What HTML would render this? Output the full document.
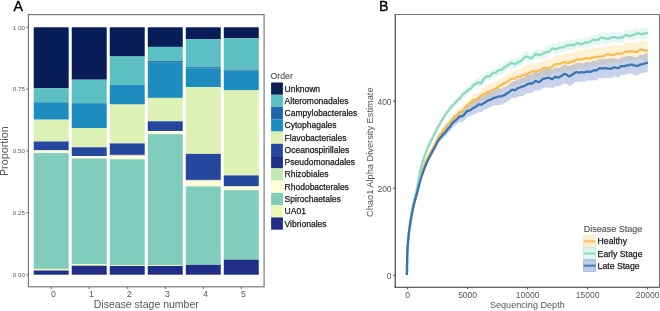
<!DOCTYPE html><html><head><meta charset="utf-8"><style>html,body{margin:0;padding:0;background:#fff;width:660px;height:311px;overflow:hidden}svg{display:block;filter:opacity(0.999)}text{font-family:"Liberation Sans",sans-serif}</style></head><body>
<svg width="660" height="311" viewBox="0 0 660 311">
<rect width="660" height="311" fill="#fff"/>
<rect x="33.72" y="27.30" width="34.97" height="60.90" fill="#081D58"/><rect x="33.72" y="88.20" width="34.97" height="14.10" fill="#5CBFC1"/><rect x="33.72" y="102.30" width="34.97" height="17.40" fill="#1D8DBF"/><rect x="33.72" y="119.70" width="34.97" height="21.80" fill="#DCF1B3"/><rect x="33.72" y="141.50" width="34.97" height="8.90" fill="#26479E"/><rect x="33.72" y="150.40" width="34.97" height="2.70" fill="#FFFFD9"/><rect x="33.72" y="153.10" width="34.97" height="115.80" fill="#80CDBB"/><rect x="33.72" y="268.90" width="34.97" height="1.60" fill="#EEF8B4"/><rect x="33.72" y="270.50" width="34.97" height="4.20" fill="#212E88"/>
<rect x="71.74" y="27.30" width="34.97" height="52.40" fill="#081D58"/><rect x="71.74" y="79.70" width="34.97" height="23.50" fill="#5CBFC1"/><rect x="71.74" y="103.20" width="34.97" height="24.90" fill="#1D8DBF"/><rect x="71.74" y="128.10" width="34.97" height="19.20" fill="#DCF1B3"/><rect x="71.74" y="147.30" width="34.97" height="8.80" fill="#26479E"/><rect x="71.74" y="156.10" width="34.97" height="2.40" fill="#FFFFD9"/><rect x="71.74" y="158.50" width="34.97" height="105.60" fill="#80CDBB"/><rect x="71.74" y="264.10" width="34.97" height="1.60" fill="#EEF8B4"/><rect x="71.74" y="265.70" width="34.97" height="9.00" fill="#212E88"/>
<rect x="109.75" y="27.30" width="34.97" height="29.20" fill="#081D58"/><rect x="109.75" y="56.50" width="34.97" height="28.10" fill="#5CBFC1"/><rect x="109.75" y="84.60" width="34.97" height="19.90" fill="#1D8DBF"/><rect x="109.75" y="104.50" width="34.97" height="38.90" fill="#DCF1B3"/><rect x="109.75" y="143.40" width="34.97" height="11.40" fill="#26479E"/><rect x="109.75" y="154.80" width="34.97" height="0.60" fill="#1F2E86"/><rect x="109.75" y="155.40" width="34.97" height="3.90" fill="#FFFFD9"/><rect x="109.75" y="159.30" width="34.97" height="105.80" fill="#80CDBB"/><rect x="109.75" y="265.10" width="34.97" height="0.90" fill="#EEF8B4"/><rect x="109.75" y="266.00" width="34.97" height="8.70" fill="#212E88"/>
<rect x="147.77" y="27.30" width="34.97" height="19.60" fill="#081D58"/><rect x="147.77" y="46.90" width="34.97" height="14.20" fill="#5CBFC1"/><rect x="147.77" y="61.10" width="34.97" height="1.00" fill="#2166AC"/><rect x="147.77" y="62.10" width="34.97" height="35.80" fill="#1D8DBF"/><rect x="147.77" y="97.90" width="34.97" height="23.40" fill="#DCF1B3"/><rect x="147.77" y="121.30" width="34.97" height="9.70" fill="#26479E"/><rect x="147.77" y="131.00" width="34.97" height="3.20" fill="#FFFFD9"/><rect x="147.77" y="134.20" width="34.97" height="130.90" fill="#80CDBB"/><rect x="147.77" y="265.10" width="34.97" height="0.90" fill="#EEF8B4"/><rect x="147.77" y="266.00" width="34.97" height="8.70" fill="#212E88"/>
<rect x="185.79" y="27.30" width="34.97" height="11.90" fill="#081D58"/><rect x="185.79" y="39.20" width="34.97" height="28.00" fill="#5CBFC1"/><rect x="185.79" y="67.20" width="34.97" height="1.00" fill="#2166AC"/><rect x="185.79" y="68.20" width="34.97" height="18.90" fill="#1D8DBF"/><rect x="185.79" y="87.10" width="34.97" height="66.80" fill="#DCF1B3"/><rect x="185.79" y="153.90" width="34.97" height="25.90" fill="#26479E"/><rect x="185.79" y="179.80" width="34.97" height="0.60" fill="#1F2E86"/><rect x="185.79" y="180.40" width="34.97" height="6.00" fill="#FFFFD9"/><rect x="185.79" y="186.40" width="34.97" height="78.50" fill="#80CDBB"/><rect x="185.79" y="264.90" width="34.97" height="9.80" fill="#212E88"/>
<rect x="223.80" y="27.30" width="34.97" height="10.90" fill="#081D58"/><rect x="223.80" y="38.20" width="34.97" height="31.40" fill="#5CBFC1"/><rect x="223.80" y="69.60" width="34.97" height="0.90" fill="#2166AC"/><rect x="223.80" y="70.50" width="34.97" height="19.90" fill="#1D8DBF"/><rect x="223.80" y="90.40" width="34.97" height="85.00" fill="#DCF1B3"/><rect x="223.80" y="175.40" width="34.97" height="11.00" fill="#26479E"/><rect x="223.80" y="186.40" width="34.97" height="3.80" fill="#FFFFD9"/><rect x="223.80" y="190.20" width="34.97" height="69.50" fill="#80CDBB"/><rect x="223.80" y="259.70" width="34.97" height="15.00" fill="#212E88"/>

<rect x="28.4" y="14.6" width="235.70000000000002" height="272.2" fill="none" stroke="#7a7a7a" stroke-width="1.2"/>
<line x1="26.4" x2="28.5" y1="274.70" y2="274.70" stroke="#555" stroke-width="0.9"/><text x="25" y="277.00" text-anchor="end" font-size="6.25" fill="#575757" font-family="Liberation Sans, sans-serif">0.00</text><line x1="26.4" x2="28.5" y1="212.85" y2="212.85" stroke="#555" stroke-width="0.9"/><text x="25" y="215.15" text-anchor="end" font-size="6.25" fill="#575757" font-family="Liberation Sans, sans-serif">0.25</text><line x1="26.4" x2="28.5" y1="151.00" y2="151.00" stroke="#555" stroke-width="0.9"/><text x="25" y="153.30" text-anchor="end" font-size="6.25" fill="#575757" font-family="Liberation Sans, sans-serif">0.50</text><line x1="26.4" x2="28.5" y1="89.15" y2="89.15" stroke="#555" stroke-width="0.9"/><text x="25" y="91.45" text-anchor="end" font-size="6.25" fill="#575757" font-family="Liberation Sans, sans-serif">0.75</text><line x1="26.4" x2="28.5" y1="27.30" y2="27.30" stroke="#555" stroke-width="0.9"/><text x="25" y="29.60" text-anchor="end" font-size="6.25" fill="#575757" font-family="Liberation Sans, sans-serif">1.00</text>
<line x1="51.21" x2="51.21" y1="287" y2="289" stroke="#555" stroke-width="0.9"/><text x="53.41" y="296.5" text-anchor="middle" font-size="8.7" fill="#575757" font-family="Liberation Sans, sans-serif">0</text><line x1="89.23" x2="89.23" y1="287" y2="289" stroke="#555" stroke-width="0.9"/><text x="91.43" y="296.5" text-anchor="middle" font-size="8.7" fill="#575757" font-family="Liberation Sans, sans-serif">1</text><line x1="127.24" x2="127.24" y1="287" y2="289" stroke="#555" stroke-width="0.9"/><text x="129.44" y="296.5" text-anchor="middle" font-size="8.7" fill="#575757" font-family="Liberation Sans, sans-serif">2</text><line x1="165.26" x2="165.26" y1="287" y2="289" stroke="#555" stroke-width="0.9"/><text x="167.46" y="296.5" text-anchor="middle" font-size="8.7" fill="#575757" font-family="Liberation Sans, sans-serif">3</text><line x1="203.27" x2="203.27" y1="287" y2="289" stroke="#555" stroke-width="0.9"/><text x="205.47" y="296.5" text-anchor="middle" font-size="8.7" fill="#575757" font-family="Liberation Sans, sans-serif">4</text><line x1="241.29" x2="241.29" y1="287" y2="289" stroke="#555" stroke-width="0.9"/><text x="243.49" y="296.5" text-anchor="middle" font-size="8.7" fill="#575757" font-family="Liberation Sans, sans-serif">5</text>
<text x="146.25" y="308.2" text-anchor="middle" font-size="10.5" fill="#575757" font-family="Liberation Sans, sans-serif">Disease stage number</text>
<text transform="translate(7.5,151.2) rotate(-90)" text-anchor="middle" font-size="10.8" fill="#575757" font-family="Liberation Sans, sans-serif">Proportion</text>
<text x="13.4" y="10.9" font-size="14.2" fill="#000" stroke="#000" stroke-width="0.35" font-family="Liberation Sans, sans-serif">A</text>
<text x="270.6" y="78.7" font-size="8.7" fill="#5a5a5a" stroke="#5a5a5a" stroke-width="0.18" font-family="Liberation Sans, sans-serif">Order</text><rect x="271.1" y="82.50" width="11.8" height="12.27" fill="#081D58"/><text x="284.6" y="91.60" font-size="8.5" fill="#1a1a1a" stroke="#1a1a1a" stroke-width="0.25" font-family="Liberation Sans, sans-serif">Unknown</text><rect x="271.1" y="94.77" width="11.8" height="12.27" fill="#5CBFC1"/><text x="284.6" y="103.86" font-size="8.5" fill="#1a1a1a" stroke="#1a1a1a" stroke-width="0.25" font-family="Liberation Sans, sans-serif">Alteromonadales</text><rect x="271.1" y="107.03" width="11.8" height="12.27" fill="#2166AC"/><text x="284.6" y="116.13" font-size="8.5" fill="#1a1a1a" stroke="#1a1a1a" stroke-width="0.25" font-family="Liberation Sans, sans-serif">Campylobacterales</text><rect x="271.1" y="119.30" width="11.8" height="12.27" fill="#1D8DBF"/><text x="284.6" y="128.40" font-size="8.5" fill="#1a1a1a" stroke="#1a1a1a" stroke-width="0.25" font-family="Liberation Sans, sans-serif">Cytophagales</text><rect x="271.1" y="131.56" width="11.8" height="12.27" fill="#DCF1B3"/><text x="284.6" y="140.66" font-size="8.5" fill="#1a1a1a" stroke="#1a1a1a" stroke-width="0.25" font-family="Liberation Sans, sans-serif">Flavobacteriales</text><rect x="271.1" y="143.82" width="11.8" height="12.27" fill="#26479E"/><text x="284.6" y="152.92" font-size="8.5" fill="#1a1a1a" stroke="#1a1a1a" stroke-width="0.25" font-family="Liberation Sans, sans-serif">Oceanospirillales</text><rect x="271.1" y="156.09" width="11.8" height="12.27" fill="#1F2E86"/><text x="284.6" y="165.19" font-size="8.5" fill="#1a1a1a" stroke="#1a1a1a" stroke-width="0.25" font-family="Liberation Sans, sans-serif">Pseudomonadales</text><rect x="271.1" y="168.36" width="11.8" height="12.27" fill="#C2E6B4"/><text x="284.6" y="177.46" font-size="8.5" fill="#1a1a1a" stroke="#1a1a1a" stroke-width="0.25" font-family="Liberation Sans, sans-serif">Rhizobiales</text><rect x="271.1" y="180.62" width="11.8" height="12.27" fill="#FFFFD9"/><text x="284.6" y="189.72" font-size="8.5" fill="#1a1a1a" stroke="#1a1a1a" stroke-width="0.25" font-family="Liberation Sans, sans-serif">Rhodobacterales</text><rect x="271.1" y="192.88" width="11.8" height="12.27" fill="#80CDBB"/><text x="284.6" y="201.98" font-size="8.5" fill="#1a1a1a" stroke="#1a1a1a" stroke-width="0.25" font-family="Liberation Sans, sans-serif">Spirochaetales</text><rect x="271.1" y="205.15" width="11.8" height="12.27" fill="#EEF8B4"/><text x="284.6" y="214.25" font-size="8.5" fill="#1a1a1a" stroke="#1a1a1a" stroke-width="0.25" font-family="Liberation Sans, sans-serif">UA01</text><rect x="271.1" y="217.42" width="11.8" height="12.27" fill="#212E88"/><text x="284.6" y="226.52" font-size="8.5" fill="#1a1a1a" stroke="#1a1a1a" stroke-width="0.25" font-family="Liberation Sans, sans-serif">Vibrionales</text>
<path d="M406.9,275.0 L406.9,274.1 L406.9,273.2 L406.9,272.3 L407.0,271.4 L407.0,270.5 L407.0,269.6 L407.0,268.7 L407.0,267.8 L407.0,266.9 L407.0,266.0 L407.0,265.1 L407.0,264.2 L407.1,263.3 L407.1,262.4 L407.1,261.5 L407.1,260.6 L407.1,259.7 L407.1,258.8 L407.2,257.9 L407.2,257.0 L407.2,256.1 L407.2,255.2 L407.3,254.3 L407.3,253.4 L407.3,252.5 L407.4,251.6 L407.4,250.7 L407.5,249.8 L407.5,248.9 L407.6,247.9 L407.6,247.0 L407.7,246.1 L407.8,245.2 L407.8,244.3 L407.9,243.4 L408.0,242.5 L408.1,241.6 L408.1,240.7 L408.2,239.8 L408.3,238.9 L408.4,238.0 L408.5,237.1 L408.6,236.2 L408.6,235.3 L408.7,234.4 L408.9,233.5 L409.0,232.6 L409.1,231.7 L409.2,230.8 L409.3,229.9 L409.4,229.0 L409.6,228.1 L409.7,227.2 L409.8,226.3 L409.9,225.3 L410.1,224.4 L410.2,223.5 L410.4,222.6 L410.5,221.7 L410.6,220.8 L410.8,219.9 L410.9,219.0 L411.1,218.1 L411.2,217.2 L411.4,216.3 L411.6,215.4 L411.7,214.5 L411.9,213.6 L412.1,212.7 L412.2,211.8 L412.4,210.9 L412.6,210.0 L412.8,209.1 L413.0,208.2 L413.2,207.3 L413.3,206.4 L413.5,205.5 L413.7,204.6 L413.9,203.7 L414.2,202.9 L414.4,202.0 L414.6,201.1 L414.8,200.2 L415.1,199.3 L415.3,198.4 L415.6,197.5 L415.8,196.6 L416.1,195.7 L416.3,194.8 L416.5,193.9 L416.8,193.1 L417.0,192.2 L417.2,191.3 L417.4,190.4 L417.6,189.5 L417.8,188.6 L418.0,187.7 L418.2,186.8 L418.4,185.9 L418.6,185.0 L418.8,184.1 L419.0,183.2 L419.2,182.3 L419.4,181.4 L419.6,180.5 L419.8,179.6 L420.0,178.7 L420.2,177.8 L420.5,176.9 L420.7,176.1 L421.0,175.2 L421.2,174.3 L421.4,173.4 L421.7,172.5 L421.9,171.6 L422.2,170.7 L422.4,169.8 L422.7,168.9 L423.0,168.0 L423.2,167.1 L423.5,166.3 L423.8,165.4 L424.1,164.5 L424.4,163.6 L424.7,162.8 L425.0,161.9 L425.3,161.0 L425.6,160.2 L426.0,159.3 L426.3,158.5 L426.7,157.6 L427.1,156.8 L427.5,155.9 L427.9,155.1 L428.3,154.3 L428.7,153.4 L429.2,152.6 L429.6,151.7 L430.1,150.9 L430.5,150.1 L431.0,149.3 L431.4,148.6 L431.9,147.7 L432.3,146.9 L432.8,146.0 L433.2,145.2 L433.6,144.3 L434.1,143.5 L434.5,142.6 L434.9,141.8 L435.3,140.9 L435.7,140.1 L436.1,139.2 L436.5,138.2 L436.9,137.3 L437.2,136.4 L437.7,135.5 L438.1,134.7 L438.5,134.0 L438.9,133.3 L439.4,132.6 L439.8,131.8 L440.3,131.1 L440.9,130.5 L441.4,129.8 L442.0,128.9 L442.6,127.9 L443.2,126.9 L443.7,126.1 L444.3,125.3 L444.9,124.6 L445.4,123.8 L446.0,123.0 L446.5,122.2 L447.1,121.5 L447.6,120.9 L448.2,120.4 L448.7,119.8 L449.3,119.2 L449.8,118.6 L450.4,118.1 L451.0,117.6 L451.6,117.0 L452.2,116.1 L452.8,115.0 L453.5,113.7 L454.1,112.7 L454.8,112.1 L455.4,111.7 L456.1,111.3 L456.8,110.7 L457.5,109.7 L458.2,108.7 L458.8,108.0 L459.5,107.7 L460.2,107.6 L460.9,107.4 L461.6,107.1 L462.2,106.8 L462.9,106.2 L463.5,105.3 L464.1,104.1 L464.8,102.7 L465.4,101.7 L466.1,101.4 L466.8,101.3 L467.4,101.0 L468.2,100.4 L468.9,99.6 L469.6,98.5 L470.3,97.6 L471.1,96.8 L471.8,96.0 L472.6,95.2 L473.3,94.7 L474.1,94.3 L474.9,94.0 L475.6,93.9 L476.4,93.8 L477.2,93.5 L478.0,93.0 L478.7,92.2 L479.5,91.1 L480.3,89.9 L481.1,88.8 L481.8,88.1 L482.6,87.9 L483.4,87.9 L484.2,88.0 L485.0,87.8 L485.8,87.1 L486.6,86.3 L487.4,85.6 L488.2,85.1 L489.0,84.9 L489.8,84.6 L490.6,84.1 L491.4,83.5 L492.2,83.0 L493.0,82.5 L493.8,82.1 L494.6,81.9 L495.4,81.6 L496.2,81.3 L497.0,81.1 L497.7,80.9 L498.5,80.5 L499.2,79.9 L500.0,79.2 L500.7,78.5 L501.5,77.8 L502.3,77.4 L503.1,77.1 L503.9,76.6 L504.7,76.2 L505.5,75.8 L506.3,75.4 L507.1,75.0 L507.9,74.4 L508.7,73.7 L509.5,73.0 L510.3,72.5 L511.2,72.1 L512.0,71.9 L512.8,71.8 L513.6,71.6 L514.5,71.0 L515.3,70.4 L516.1,69.8 L517.0,69.3 L517.8,69.4 L518.6,69.7 L519.5,69.7 L520.3,69.3 L521.1,68.5 L522.0,67.5 L522.8,66.7 L523.7,66.4 L524.5,66.2 L525.3,65.9 L526.2,65.4 L527.0,64.8 L527.9,64.5 L528.8,64.5 L529.6,64.4 L530.5,64.0 L531.3,63.4 L532.2,63.0 L533.0,63.2 L533.9,63.8 L534.8,64.3 L535.6,64.4 L536.5,63.9 L537.4,63.1 L538.2,62.5 L539.1,62.3 L539.9,62.3 L540.8,62.3 L541.7,62.0 L542.5,61.4 L543.4,60.7 L544.3,60.2 L545.1,59.8 L546.0,59.5 L546.8,59.5 L547.7,59.6 L548.6,59.7 L549.5,59.9 L550.3,59.8 L551.2,59.4 L552.1,58.6 L552.9,57.6 L553.8,56.8 L554.7,56.2 L555.5,55.8 L556.4,55.5 L557.3,55.3 L558.2,55.3 L559.0,55.2 L559.9,54.9 L560.8,54.5 L561.7,54.1 L562.5,53.9 L563.4,53.9 L564.3,53.9 L565.2,53.7 L566.0,53.6 L566.9,53.7 L567.8,53.9 L568.7,54.0 L569.5,53.8 L570.4,53.4 L571.3,52.9 L572.2,52.7 L573.1,52.5 L573.9,52.3 L574.8,51.8 L575.7,51.2 L576.6,50.7 L577.5,50.4 L578.3,50.2 L579.2,50.1 L580.1,50.2 L581.0,50.5 L581.9,50.7 L582.8,50.5 L583.6,50.2 L584.5,49.7 L585.4,49.5 L586.3,49.3 L587.2,49.3 L588.1,49.2 L588.9,49.1 L589.8,48.9 L590.7,48.4 L591.6,47.9 L592.5,47.5 L593.4,47.5 L594.3,47.8 L595.1,48.1 L596.0,48.3 L596.9,48.1 L597.8,47.8 L598.7,47.5 L599.6,47.3 L600.5,47.2 L601.4,47.3 L602.2,47.5 L603.1,47.5 L604.0,47.1 L604.9,46.7 L605.8,46.3 L606.7,46.0 L607.6,45.7 L608.5,45.4 L609.4,45.2 L610.3,45.3 L611.1,45.6 L612.0,45.7 L612.9,45.5 L613.8,45.2 L614.7,44.8 L615.6,44.5 L616.5,44.4 L617.4,44.5 L618.3,44.8 L619.2,44.9 L620.1,44.9 L621.0,44.8 L621.9,44.5 L622.7,44.2 L623.6,43.7 L624.5,43.2 L625.4,42.7 L626.3,42.4 L627.2,42.4 L628.1,42.5 L629.0,42.5 L629.9,42.3 L630.8,42.2 L631.7,42.3 L632.6,42.5 L633.5,42.7 L634.4,42.9 L635.3,43.1 L636.2,43.2 L637.1,43.0 L638.0,42.4 L638.9,41.5 L639.7,40.8 L640.6,40.6 L641.5,40.7 L642.4,41.1 L643.3,41.3 L644.2,41.3 L645.1,41.4 L646.0,41.4 L646.9,41.3 L647.8,41.2 L647.8,60.1 L646.9,60.6 L646.0,60.8 L645.1,60.6 L644.2,60.2 L643.3,59.7 L642.4,59.2 L641.5,58.8 L640.6,58.6 L639.7,58.5 L638.9,58.8 L638.0,59.5 L637.1,60.3 L636.2,60.7 L635.3,60.9 L634.4,60.9 L633.5,60.7 L632.6,60.4 L631.7,60.2 L630.8,60.1 L629.9,60.2 L629.0,60.6 L628.1,60.8 L627.2,60.6 L626.3,60.3 L625.4,60.3 L624.5,60.7 L623.6,61.5 L622.7,62.3 L621.9,63.0 L621.0,63.4 L620.1,63.3 L619.2,63.0 L618.3,62.7 L617.4,62.6 L616.5,62.9 L615.6,63.5 L614.7,64.1 L613.8,64.2 L612.9,64.0 L612.0,63.9 L611.1,63.9 L610.3,63.8 L609.4,63.5 L608.5,63.3 L607.6,63.0 L606.7,63.1 L605.8,63.6 L604.9,64.2 L604.0,64.6 L603.1,64.8 L602.2,65.0 L601.4,65.0 L600.5,65.1 L599.6,65.2 L598.7,65.1 L597.8,65.1 L596.9,65.2 L596.0,65.7 L595.1,66.0 L594.3,65.9 L593.4,65.7 L592.5,65.7 L591.6,66.3 L590.7,67.1 L589.8,67.7 L588.9,67.8 L588.1,67.4 L587.2,67.1 L586.3,66.9 L585.4,67.0 L584.5,67.4 L583.6,67.8 L582.8,68.1 L581.9,68.1 L581.0,67.8 L580.1,67.6 L579.2,67.7 L578.3,68.2 L577.5,68.7 L576.6,69.1 L575.7,69.4 L574.8,69.9 L573.9,70.3 L573.1,70.5 L572.2,70.4 L571.3,70.4 L570.4,70.6 L569.5,71.1 L568.7,71.6 L567.8,71.8 L566.9,71.6 L566.0,71.4 L565.2,71.4 L564.3,71.4 L563.4,71.4 L562.5,71.5 L561.7,71.5 L560.8,71.7 L559.9,71.9 L559.0,71.9 L558.2,71.9 L557.3,72.0 L556.4,72.3 L555.5,72.6 L554.7,72.9 L553.8,73.3 L552.9,73.9 L552.1,74.6 L551.2,75.4 L550.3,76.1 L549.5,76.5 L548.6,76.7 L547.7,76.7 L546.8,76.5 L546.0,76.3 L545.1,76.1 L544.3,76.1 L543.4,76.3 L542.5,76.7 L541.7,77.4 L540.8,78.0 L539.9,78.5 L539.1,78.8 L538.2,79.1 L537.4,79.5 L536.5,79.8 L535.6,79.8 L534.8,79.5 L533.9,79.0 L533.0,78.8 L532.2,79.0 L531.3,79.6 L530.5,80.2 L529.6,80.7 L528.8,81.0 L527.9,81.3 L527.0,81.7 L526.2,82.2 L525.3,82.4 L524.5,82.5 L523.7,82.7 L522.8,82.8 L522.0,83.2 L521.1,83.8 L520.3,84.2 L519.5,84.6 L518.6,84.8 L517.8,84.9 L517.0,85.1 L516.1,85.5 L515.3,85.8 L514.5,85.9 L513.6,86.0 L512.8,86.1 L512.0,86.1 L511.2,86.4 L510.3,86.7 L509.5,87.2 L508.7,87.8 L507.9,88.4 L507.1,88.8 L506.3,89.1 L505.5,89.3 L504.7,89.5 L503.9,90.0 L503.1,90.5 L502.3,91.0 L501.5,91.5 L500.7,92.1 L500.0,92.5 L499.2,92.9 L498.5,93.3 L497.7,93.9 L497.0,94.5 L496.2,94.9 L495.4,95.1 L494.6,95.2 L493.8,95.4 L493.0,95.8 L492.2,96.4 L491.4,96.8 L490.6,97.2 L489.8,97.6 L489.0,97.7 L488.2,97.8 L487.4,98.2 L486.6,98.8 L485.8,99.4 L485.0,100.0 L484.2,100.3 L483.4,100.5 L482.6,100.9 L481.8,101.6 L481.1,102.2 L480.3,102.6 L479.5,103.0 L478.7,103.3 L478.0,103.8 L477.2,104.2 L476.4,104.7 L475.6,104.9 L474.9,105.0 L474.1,105.1 L473.3,105.3 L472.6,105.8 L471.8,106.4 L471.1,106.9 L470.3,107.4 L469.6,108.0 L468.9,108.8 L468.2,109.5 L467.4,110.2 L466.8,110.6 L466.1,110.9 L465.4,111.2 L464.8,111.8 L464.1,112.8 L463.5,113.7 L462.9,114.5 L462.2,115.1 L461.6,115.6 L460.9,116.1 L460.2,116.5 L459.5,116.9 L458.8,117.3 L458.2,117.9 L457.5,118.7 L456.8,119.4 L456.1,119.9 L455.4,120.3 L454.8,120.6 L454.1,121.1 L453.5,121.7 L452.8,122.6 L452.2,123.5 L451.6,124.4 L451.0,125.1 L450.4,125.7 L449.8,126.3 L449.3,126.8 L448.7,127.2 L448.2,127.5 L447.6,127.9 L447.1,128.4 L446.5,129.0 L446.0,129.8 L445.4,130.7 L444.9,131.5 L444.3,132.3 L443.7,133.0 L443.2,133.8 L442.6,134.6 L442.0,135.3 L441.4,136.0 L440.9,136.5 L440.3,137.1 L439.8,137.8 L439.4,138.5 L438.9,139.2 L438.5,139.8 L438.1,140.4 L437.7,141.1 L437.2,141.9 L436.9,142.8 L436.5,143.6 L436.1,144.4 L435.7,145.2 L435.3,146.0 L434.9,146.9 L434.5,147.7 L434.1,148.4 L433.6,149.2 L433.2,149.9 L432.8,150.7 L432.3,151.5 L431.9,152.3 L431.4,153.0 L431.0,153.6 L430.5,154.3 L430.1,155.1 L429.6,155.8 L429.2,156.6 L428.7,157.4 L428.3,158.2 L427.9,158.9 L427.5,159.7 L427.1,160.4 L426.7,161.2 L426.3,162.0 L426.0,162.8 L425.6,163.6 L425.3,164.4 L425.0,165.2 L424.7,166.0 L424.4,166.8 L424.1,167.6 L423.8,168.5 L423.5,169.3 L423.2,170.1 L423.0,171.0 L422.7,171.8 L422.4,172.6 L422.2,173.5 L421.9,174.3 L421.7,175.2 L421.4,176.0 L421.2,176.9 L421.0,177.7 L420.7,178.6 L420.5,179.4 L420.2,180.3 L420.0,181.1 L419.8,182.0 L419.6,182.8 L419.4,183.7 L419.2,184.5 L419.0,185.4 L418.8,186.3 L418.6,187.1 L418.4,188.0 L418.2,188.9 L418.0,189.7 L417.8,190.6 L417.6,191.4 L417.4,192.3 L417.2,193.2 L417.0,194.0 L416.8,194.9 L416.5,195.7 L416.3,196.6 L416.1,197.4 L415.8,198.2 L415.6,199.1 L415.3,199.9 L415.1,200.8 L414.8,201.6 L414.6,202.5 L414.4,203.3 L414.2,204.2 L413.9,205.0 L413.7,205.9 L413.5,206.7 L413.3,207.6 L413.2,208.5 L413.0,209.3 L412.8,210.2 L412.6,211.1 L412.4,211.9 L412.2,212.8 L412.1,213.7 L411.9,214.5 L411.7,215.4 L411.6,216.3 L411.4,217.1 L411.2,218.0 L411.1,218.9 L410.9,219.8 L410.8,220.6 L410.6,221.5 L410.5,222.4 L410.4,223.3 L410.2,224.1 L410.1,225.0 L409.9,225.9 L409.8,226.8 L409.7,227.6 L409.6,228.5 L409.4,229.4 L409.3,230.3 L409.2,231.2 L409.1,232.1 L409.0,232.9 L408.9,233.8 L408.7,234.7 L408.6,235.6 L408.6,236.5 L408.5,237.4 L408.4,238.3 L408.3,239.1 L408.2,240.0 L408.1,240.9 L408.1,241.8 L408.0,242.7 L407.9,243.6 L407.8,244.5 L407.8,245.4 L407.7,246.3 L407.6,247.2 L407.6,248.1 L407.5,248.9 L407.5,249.8 L407.4,250.7 L407.4,251.6 L407.3,252.5 L407.3,253.4 L407.3,254.3 L407.2,255.2 L407.2,256.1 L407.2,257.0 L407.2,257.9 L407.1,258.8 L407.1,259.7 L407.1,260.6 L407.1,261.5 L407.1,262.4 L407.1,263.3 L407.0,264.2 L407.0,265.1 L407.0,266.0 L407.0,266.9 L407.0,267.8 L407.0,268.7 L407.0,269.6 L407.0,270.5 L407.0,271.4 L406.9,272.3 L406.9,273.2 L406.9,274.1 L406.9,275.0Z" fill="#FFCF78" fill-opacity="0.3" stroke="none"/>
<path d="M406.9,275.0 L406.9,274.1 L406.9,273.1 L406.9,272.2 L407.0,271.3 L407.0,270.3 L407.0,269.4 L407.0,268.5 L407.0,267.5 L407.0,266.6 L407.0,265.7 L407.0,264.7 L407.1,263.8 L407.1,262.8 L407.1,261.9 L407.1,261.0 L407.1,260.0 L407.1,259.1 L407.2,258.2 L407.2,257.2 L407.2,256.3 L407.2,255.4 L407.2,254.4 L407.3,253.5 L407.3,252.6 L407.3,251.6 L407.4,250.7 L407.4,249.7 L407.5,248.8 L407.5,247.9 L407.6,246.9 L407.6,246.0 L407.7,245.1 L407.7,244.1 L407.8,243.2 L407.9,242.2 L407.9,241.3 L408.0,240.4 L408.1,239.4 L408.1,238.5 L408.2,237.6 L408.3,236.6 L408.4,235.7 L408.5,234.8 L408.6,233.8 L408.7,232.9 L408.8,231.9 L408.9,231.0 L409.0,230.1 L409.1,229.1 L409.2,228.2 L409.4,227.3 L409.5,226.3 L409.6,225.4 L409.7,224.4 L409.9,223.5 L410.0,222.6 L410.1,221.6 L410.2,220.7 L410.4,219.8 L410.5,218.8 L410.7,217.9 L410.8,217.0 L410.9,216.0 L411.1,215.1 L411.2,214.2 L411.4,213.2 L411.6,212.3 L411.7,211.4 L411.9,210.4 L412.1,209.5 L412.2,208.6 L412.4,207.6 L412.6,206.7 L412.8,205.8 L412.9,204.8 L413.1,203.9 L413.3,203.0 L413.6,202.1 L413.8,201.1 L414.0,200.2 L414.2,199.3 L414.5,198.4 L414.7,197.4 L415.0,196.5 L415.2,195.6 L415.4,194.7 L415.7,193.8 L415.9,192.8 L416.1,191.9 L416.3,191.0 L416.5,190.0 L416.7,189.1 L416.8,188.2 L417.0,187.3 L417.2,186.3 L417.4,185.4 L417.6,184.5 L417.7,183.5 L417.9,182.6 L418.1,181.7 L418.3,180.7 L418.5,179.8 L418.6,178.9 L418.8,177.9 L419.0,177.0 L419.1,176.1 L419.3,175.1 L419.5,174.2 L419.7,173.3 L419.8,172.3 L420.0,171.4 L420.2,170.5 L420.4,169.6 L420.6,168.6 L420.8,167.7 L421.0,166.8 L421.3,165.9 L421.5,164.9 L421.7,164.0 L422.0,163.1 L422.2,162.2 L422.5,161.3 L422.8,160.3 L423.0,159.4 L423.3,158.5 L423.6,157.6 L423.9,156.7 L424.2,155.8 L424.5,154.9 L424.8,154.0 L425.1,153.1 L425.4,152.2 L425.7,151.3 L426.1,150.4 L426.4,149.5 L426.8,148.6 L427.1,147.7 L427.5,146.8 L427.9,145.9 L428.3,145.0 L428.7,144.1 L429.1,143.2 L429.5,142.3 L429.9,141.5 L430.3,140.7 L430.7,139.8 L431.1,139.0 L431.5,138.2 L432.0,137.3 L432.4,136.4 L432.8,135.5 L433.2,134.6 L433.6,133.7 L434.0,132.9 L434.4,132.0 L434.8,131.1 L435.3,130.2 L435.7,129.3 L436.1,128.3 L436.5,127.3 L437.0,126.4 L437.4,125.6 L437.8,124.8 L438.3,124.0 L438.7,123.3 L439.2,122.6 L439.6,121.8 L440.1,121.0 L440.6,120.2 L441.1,119.2 L441.5,118.2 L442.0,117.3 L442.5,116.6 L443.0,115.7 L443.5,114.9 L444.0,114.0 L444.5,113.1 L445.1,112.4 L445.6,111.8 L446.1,111.0 L446.6,110.2 L447.2,109.4 L447.7,108.8 L448.3,108.2 L448.8,107.5 L449.4,106.6 L449.9,105.5 L450.5,104.5 L451.1,103.7 L451.7,103.0 L452.3,102.4 L452.9,101.7 L453.6,101.2 L454.2,100.6 L454.9,100.1 L455.5,99.3 L456.2,98.4 L456.9,97.5 L457.6,96.7 L458.3,96.1 L458.9,95.6 L459.6,95.3 L460.3,95.1 L460.9,94.3 L461.6,93.1 L462.2,91.7 L462.9,90.7 L463.5,90.1 L464.1,89.8 L464.8,89.5 L465.4,88.9 L466.1,88.1 L466.7,87.3 L467.4,86.5 L468.1,85.7 L468.8,85.1 L469.5,84.7 L470.2,84.5 L470.9,84.2 L471.7,83.6 L472.4,82.8 L473.2,81.9 L474.0,81.0 L474.8,80.3 L475.6,79.7 L476.4,79.2 L477.2,78.7 L478.0,78.4 L478.8,78.6 L479.6,79.0 L480.4,79.1 L481.2,78.7 L482.0,77.6 L482.8,76.0 L483.7,74.5 L484.5,73.6 L485.3,72.9 L486.1,72.3 L487.0,71.9 L487.8,71.8 L488.6,72.0 L489.4,72.2 L490.2,71.9 L491.0,71.0 L491.9,70.0 L492.7,69.2 L493.5,68.9 L494.3,68.8 L495.1,68.6 L495.9,68.1 L496.7,67.2 L497.5,66.2 L498.4,65.5 L499.2,65.4 L500.0,65.7 L500.9,65.9 L501.7,65.7 L502.5,64.8 L503.4,63.7 L504.2,62.8 L505.0,62.1 L505.9,61.7 L506.7,61.3 L507.6,61.0 L508.4,60.6 L509.2,60.0 L510.1,59.4 L510.9,59.0 L511.8,58.8 L512.6,58.9 L513.5,59.3 L514.3,59.5 L515.2,59.3 L516.0,58.7 L516.9,58.0 L517.7,57.4 L518.6,57.1 L519.5,56.8 L520.3,56.5 L521.2,56.1 L522.1,55.3 L522.9,54.3 L523.8,53.2 L524.7,52.0 L525.5,51.2 L526.4,51.0 L527.3,51.1 L528.2,51.7 L529.1,52.6 L529.9,53.4 L530.8,53.8 L531.7,53.6 L532.6,52.9 L533.5,51.7 L534.4,50.4 L535.2,49.3 L536.1,48.8 L537.0,49.1 L537.9,49.8 L538.8,50.4 L539.7,50.5 L540.6,50.3 L541.5,49.9 L542.3,49.4 L543.2,48.6 L544.1,47.7 L545.0,46.9 L545.9,46.6 L546.8,46.6 L547.7,46.6 L548.6,46.4 L549.5,45.8 L550.4,45.0 L551.3,44.0 L552.2,43.2 L553.1,43.0 L554.0,43.3 L554.9,43.7 L555.8,43.7 L556.7,43.4 L557.6,42.9 L558.5,42.3 L559.4,42.2 L560.3,42.3 L561.2,42.5 L562.1,42.7 L563.0,42.6 L563.9,42.1 L564.8,41.4 L565.7,40.9 L566.6,40.7 L567.5,40.8 L568.4,40.8 L569.4,40.5 L570.3,40.1 L571.2,39.7 L572.1,39.7 L573.0,40.0 L573.9,40.2 L574.8,40.0 L575.7,39.3 L576.6,38.4 L577.5,37.6 L578.4,37.5 L579.3,37.9 L580.3,38.6 L581.2,39.2 L582.1,39.3 L583.0,39.0 L583.9,38.4 L584.8,37.8 L585.8,37.5 L586.7,37.4 L587.6,37.3 L588.5,37.1 L589.4,36.7 L590.4,36.2 L591.3,35.6 L592.2,35.3 L593.1,35.2 L594.0,35.2 L595.0,35.0 L595.9,34.7 L596.8,34.4 L597.7,34.1 L598.7,33.6 L599.6,32.9 L600.5,32.3 L601.4,32.2 L602.4,32.4 L603.3,32.6 L604.2,32.6 L605.1,32.4 L606.1,32.5 L607.0,32.8 L607.9,33.0 L608.8,32.7 L609.8,32.2 L610.7,31.8 L611.6,31.8 L612.5,31.9 L613.5,32.1 L614.4,32.2 L615.3,32.3 L616.2,32.6 L617.2,32.7 L618.1,32.6 L619.0,32.3 L619.9,32.0 L620.9,32.2 L621.8,32.3 L622.7,32.2 L623.7,31.6 L624.6,30.7 L625.5,30.0 L626.4,29.8 L627.4,30.1 L628.3,30.5 L629.2,30.9 L630.2,31.0 L631.1,30.8 L632.0,30.4 L632.9,29.8 L633.9,29.1 L634.8,28.4 L635.7,28.1 L636.7,28.1 L637.6,28.4 L638.5,28.8 L639.4,29.2 L640.4,29.4 L641.3,29.3 L642.2,29.0 L643.2,28.5 L644.1,28.3 L645.0,28.3 L645.9,28.3 L646.9,28.1 L647.8,27.8 L647.8,38.6 L646.9,38.6 L645.9,38.5 L645.0,38.5 L644.1,38.6 L643.2,39.0 L642.2,39.3 L641.3,39.2 L640.4,39.0 L639.4,38.7 L638.5,38.5 L637.6,38.2 L636.7,38.3 L635.7,38.4 L634.8,38.8 L633.9,39.4 L632.9,40.1 L632.0,40.6 L631.1,41.0 L630.2,41.2 L629.2,41.0 L628.3,40.5 L627.4,39.9 L626.4,39.6 L625.5,39.8 L624.6,40.7 L623.7,41.9 L622.7,42.7 L621.8,43.1 L620.9,42.9 L619.9,42.7 L619.0,42.8 L618.1,43.1 L617.2,43.1 L616.2,42.8 L615.3,42.3 L614.4,42.0 L613.5,41.9 L612.5,42.2 L611.6,42.5 L610.7,42.8 L609.8,43.2 L608.8,43.5 L607.9,43.8 L607.0,43.8 L606.1,43.8 L605.1,44.0 L604.2,44.2 L603.3,44.1 L602.4,43.8 L601.4,43.5 L600.5,43.5 L599.6,44.0 L598.7,44.7 L597.7,45.1 L596.8,45.1 L595.9,45.0 L595.0,44.7 L594.0,44.6 L593.1,44.7 L592.2,45.1 L591.3,45.8 L590.4,46.6 L589.4,47.3 L588.5,47.5 L587.6,47.5 L586.7,47.4 L585.8,47.2 L584.8,47.4 L583.9,47.9 L583.0,48.4 L582.1,49.0 L581.2,49.4 L580.3,49.3 L579.3,48.8 L578.4,48.1 L577.5,47.6 L576.6,47.8 L575.7,48.4 L574.8,49.1 L573.9,49.4 L573.0,49.3 L572.1,49.4 L571.2,49.9 L570.3,50.4 L569.4,50.6 L568.4,50.5 L567.5,50.2 L566.6,50.3 L565.7,50.9 L564.8,51.8 L563.9,52.5 L563.0,52.8 L562.1,52.7 L561.2,52.4 L560.3,52.3 L559.4,52.3 L558.5,52.7 L557.6,53.5 L556.7,54.1 L555.8,54.3 L554.9,54.0 L554.0,53.4 L553.1,52.9 L552.2,53.2 L551.3,54.2 L550.4,55.4 L549.5,56.3 L548.6,57.0 L547.7,57.3 L546.8,57.4 L545.9,57.6 L545.0,58.0 L544.1,58.7 L543.2,59.2 L542.3,59.4 L541.5,59.3 L540.6,59.4 L539.7,59.7 L538.8,59.9 L537.9,59.6 L537.0,59.1 L536.1,58.7 L535.2,58.8 L534.4,59.5 L533.5,60.5 L532.6,61.6 L531.7,62.6 L530.8,63.1 L529.9,63.2 L529.1,62.6 L528.2,61.8 L527.3,61.2 L526.4,61.1 L525.5,61.3 L524.7,61.9 L523.8,62.7 L522.9,63.5 L522.1,64.4 L521.2,65.3 L520.3,65.8 L519.5,66.0 L518.6,66.3 L517.7,66.7 L516.9,67.4 L516.0,68.2 L515.2,68.8 L514.3,68.9 L513.5,68.6 L512.6,68.1 L511.8,67.7 L510.9,67.5 L510.1,67.6 L509.2,68.1 L508.4,68.8 L507.6,69.7 L506.7,70.5 L505.9,71.2 L505.0,71.7 L504.2,72.0 L503.4,72.5 L502.5,73.3 L501.7,74.2 L500.9,74.9 L500.0,75.1 L499.2,75.1 L498.4,75.1 L497.5,75.6 L496.7,76.4 L495.9,77.0 L495.1,77.2 L494.3,77.1 L493.5,77.1 L492.7,77.6 L491.9,78.7 L491.0,79.8 L490.2,80.5 L489.4,80.6 L488.6,80.2 L487.8,79.9 L487.0,79.9 L486.1,80.3 L485.3,81.2 L484.5,82.2 L483.7,83.4 L482.8,84.8 L482.0,86.3 L481.2,87.3 L480.4,87.6 L479.6,87.4 L478.8,86.8 L478.0,86.4 L477.2,86.5 L476.4,86.8 L475.6,87.1 L474.8,87.5 L474.0,88.1 L473.2,89.0 L472.4,90.0 L471.7,90.9 L470.9,91.5 L470.2,91.8 L469.5,92.2 L468.8,93.1 L468.1,94.0 L467.4,94.7 L466.7,95.3 L466.1,95.9 L465.4,96.5 L464.8,97.1 L464.1,97.5 L463.5,97.6 L462.9,98.0 L462.2,98.7 L461.6,99.8 L460.9,100.9 L460.3,101.8 L459.6,102.3 L458.9,102.6 L458.3,102.9 L457.6,103.3 L456.9,103.9 L456.2,104.8 L455.5,105.8 L454.9,106.7 L454.2,107.4 L453.6,107.9 L452.9,108.4 L452.3,108.8 L451.7,109.3 L451.1,109.8 L450.5,110.4 L449.9,111.4 L449.4,112.4 L448.8,113.3 L448.3,113.9 L447.7,114.4 L447.2,115.0 L446.6,115.7 L446.1,116.5 L445.6,117.1 L445.1,117.7 L444.5,118.3 L444.0,119.1 L443.5,120.1 L443.0,121.0 L442.5,121.9 L442.0,122.7 L441.5,123.4 L441.1,124.3 L440.6,125.2 L440.1,126.1 L439.6,126.9 L439.2,127.6 L438.7,128.2 L438.3,128.8 L437.8,129.4 L437.4,130.1 L437.0,130.8 L436.5,131.7 L436.1,132.7 L435.7,133.7 L435.3,134.5 L434.8,135.3 L434.4,136.1 L434.0,136.9 L433.6,137.7 L433.2,138.5 L432.8,139.3 L432.4,140.1 L432.0,141.0 L431.5,141.9 L431.1,142.7 L430.7,143.4 L430.3,144.2 L429.9,144.9 L429.5,145.7 L429.1,146.6 L428.7,147.4 L428.3,148.2 L427.9,149.1 L427.5,149.9 L427.1,150.8 L426.8,151.6 L426.4,152.5 L426.1,153.3 L425.7,154.1 L425.4,155.0 L425.1,155.8 L424.8,156.7 L424.5,157.5 L424.2,158.4 L423.9,159.3 L423.6,160.1 L423.3,161.0 L423.0,161.9 L422.8,162.8 L422.5,163.6 L422.2,164.5 L422.0,165.4 L421.7,166.3 L421.5,167.2 L421.3,168.0 L421.0,168.9 L420.8,169.8 L420.6,170.7 L420.4,171.6 L420.2,172.5 L420.0,173.4 L419.8,174.3 L419.7,175.2 L419.5,176.1 L419.3,177.0 L419.1,177.9 L419.0,178.8 L418.8,179.7 L418.6,180.7 L418.5,181.6 L418.3,182.5 L418.1,183.4 L417.9,184.3 L417.7,185.2 L417.6,186.1 L417.4,187.0 L417.2,187.9 L417.0,188.8 L416.8,189.7 L416.7,190.6 L416.5,191.5 L416.3,192.4 L416.1,193.3 L415.9,194.2 L415.7,195.1 L415.4,196.0 L415.2,196.9 L415.0,197.8 L414.7,198.6 L414.5,199.5 L414.2,200.4 L414.0,201.3 L413.8,202.2 L413.6,203.1 L413.3,204.0 L413.1,204.9 L412.9,205.8 L412.8,206.7 L412.6,207.6 L412.4,208.5 L412.2,209.4 L412.1,210.3 L411.9,211.2 L411.7,212.1 L411.6,213.0 L411.4,213.9 L411.2,214.8 L411.1,215.7 L410.9,216.6 L410.8,217.5 L410.7,218.5 L410.5,219.4 L410.4,220.3 L410.2,221.2 L410.1,222.1 L410.0,223.0 L409.9,223.9 L409.7,224.9 L409.6,225.8 L409.5,226.7 L409.4,227.6 L409.2,228.5 L409.1,229.5 L409.0,230.4 L408.9,231.3 L408.8,232.2 L408.7,233.1 L408.6,234.1 L408.5,235.0 L408.4,235.9 L408.3,236.8 L408.2,237.7 L408.1,238.7 L408.1,239.6 L408.0,240.5 L407.9,241.4 L407.9,242.4 L407.8,243.3 L407.7,244.2 L407.7,245.2 L407.6,246.1 L407.6,247.0 L407.5,247.9 L407.5,248.9 L407.4,249.8 L407.4,250.7 L407.3,251.7 L407.3,252.6 L407.3,253.5 L407.2,254.5 L407.2,255.4 L407.2,256.3 L407.2,257.3 L407.2,258.2 L407.1,259.1 L407.1,260.1 L407.1,261.0 L407.1,261.9 L407.1,262.9 L407.1,263.8 L407.0,264.7 L407.0,265.7 L407.0,266.6 L407.0,267.5 L407.0,268.5 L407.0,269.4 L407.0,270.3 L407.0,271.3 L406.9,272.2 L406.9,273.1 L406.9,274.1 L406.9,275.0Z" fill="#7FD6BC" fill-opacity="0.2" stroke="none"/>
<path d="M406.9,275.0 L406.9,274.1 L406.9,273.2 L406.9,272.4 L407.0,271.5 L407.0,270.6 L407.0,269.7 L407.0,268.8 L407.0,267.9 L407.0,267.1 L407.0,266.2 L407.0,265.3 L407.0,264.4 L407.1,263.5 L407.1,262.6 L407.1,261.8 L407.1,260.9 L407.1,260.0 L407.1,259.1 L407.1,258.2 L407.2,257.3 L407.2,256.5 L407.2,255.6 L407.2,254.7 L407.3,253.8 L407.3,252.9 L407.3,252.0 L407.4,251.2 L407.4,250.3 L407.5,249.4 L407.6,248.5 L407.6,247.6 L407.7,246.7 L407.7,245.8 L407.8,245.0 L407.9,244.1 L407.9,243.2 L408.0,242.3 L408.1,241.4 L408.2,240.5 L408.2,239.6 L408.3,238.8 L408.4,237.9 L408.5,237.0 L408.6,236.1 L408.7,235.2 L408.8,234.3 L408.9,233.4 L409.0,232.6 L409.1,231.7 L409.2,230.8 L409.3,229.9 L409.4,229.0 L409.5,228.1 L409.7,227.2 L409.8,226.4 L409.9,225.5 L410.1,224.6 L410.2,223.7 L410.3,222.8 L410.5,221.9 L410.6,221.0 L410.7,220.2 L410.9,219.3 L411.0,218.4 L411.2,217.5 L411.3,216.6 L411.5,215.7 L411.7,214.9 L411.8,214.0 L412.0,213.1 L412.2,212.2 L412.3,211.3 L412.5,210.5 L412.7,209.6 L412.9,208.7 L413.1,207.8 L413.2,206.9 L413.4,206.1 L413.6,205.2 L413.8,204.3 L414.0,203.4 L414.2,202.6 L414.4,201.7 L414.7,200.8 L414.9,199.9 L415.1,199.1 L415.4,198.2 L415.6,197.3 L415.8,196.4 L416.1,195.6 L416.3,194.7 L416.5,193.8 L416.8,192.9 L417.0,192.1 L417.2,191.2 L417.5,190.3 L417.7,189.5 L417.9,188.6 L418.1,187.7 L418.3,186.8 L418.6,186.0 L418.8,185.1 L419.0,184.2 L419.2,183.3 L419.5,182.5 L419.7,181.6 L419.9,180.7 L420.2,179.8 L420.4,179.0 L420.7,178.1 L421.0,177.2 L421.2,176.4 L421.5,175.5 L421.8,174.6 L422.0,173.7 L422.3,172.9 L422.6,172.0 L422.9,171.1 L423.2,170.3 L423.5,169.4 L423.8,168.5 L424.1,167.7 L424.4,166.8 L424.7,165.9 L425.0,165.1 L425.4,164.2 L425.7,163.4 L426.0,162.6 L426.4,161.7 L426.7,160.9 L427.1,160.0 L427.5,159.1 L427.8,158.3 L428.2,157.5 L428.6,156.7 L429.0,155.9 L429.4,155.0 L429.8,154.1 L430.2,153.3 L430.6,152.5 L431.0,151.7 L431.4,150.8 L431.9,149.9 L432.3,149.0 L432.7,148.1 L433.1,147.4 L433.6,146.7 L434.0,145.9 L434.4,145.1 L434.8,144.3 L435.3,143.4 L435.7,142.5 L436.1,141.6 L436.5,140.7 L436.9,139.9 L437.4,139.2 L437.8,138.4 L438.2,137.5 L438.6,136.7 L439.1,135.9 L439.6,135.2 L440.1,134.6 L440.6,134.0 L441.2,133.3 L441.8,132.4 L442.4,131.6 L443.0,130.8 L443.6,130.2 L444.2,129.7 L444.7,129.2 L445.3,128.6 L445.8,128.0 L446.4,127.1 L446.9,126.2 L447.5,125.2 L448.0,124.4 L448.6,123.8 L449.1,123.3 L449.7,122.8 L450.2,122.1 L450.8,121.1 L451.3,120.1 L451.9,119.1 L452.5,118.3 L453.1,117.7 L453.7,117.1 L454.4,116.5 L455.0,115.9 L455.7,115.3 L456.4,114.6 L457.1,113.8 L457.9,113.0 L458.6,112.2 L459.3,111.7 L460.1,111.5 L460.8,111.4 L461.5,111.3 L462.2,110.9 L462.9,110.3 L463.6,109.4 L464.3,108.3 L465.1,107.1 L465.8,106.1 L466.5,105.2 L467.3,104.8 L468.0,104.6 L468.7,104.6 L469.5,104.3 L470.2,103.9 L471.0,103.3 L471.8,102.6 L472.5,102.1 L473.3,101.7 L474.1,101.3 L474.9,100.8 L475.7,100.2 L476.5,99.5 L477.3,98.6 L478.1,97.8 L479.0,97.1 L479.8,96.9 L480.6,97.0 L481.4,97.1 L482.2,96.9 L483.0,96.4 L483.8,95.7 L484.6,95.0 L485.4,94.3 L486.2,93.6 L487.0,92.9 L487.7,92.4 L488.5,92.1 L489.3,91.9 L490.1,91.9 L490.9,92.0 L491.6,91.9 L492.4,91.7 L493.2,91.1 L494.0,90.4 L494.8,89.9 L495.6,89.5 L496.4,88.9 L497.2,88.2 L498.1,87.8 L498.9,88.0 L499.7,88.5 L500.6,88.9 L501.4,88.7 L502.2,88.0 L503.0,87.5 L503.8,87.2 L504.6,87.1 L505.4,86.9 L506.2,86.5 L507.0,86.1 L507.8,85.7 L508.5,85.1 L509.3,84.3 L510.1,83.5 L510.9,82.7 L511.7,81.9 L512.5,81.4 L513.2,81.2 L514.0,81.3 L514.8,81.3 L515.6,81.0 L516.4,80.3 L517.2,79.7 L518.0,79.2 L518.8,79.0 L519.7,78.9 L520.5,78.7 L521.3,78.3 L522.1,78.0 L523.0,77.7 L523.8,77.5 L524.6,77.0 L525.5,76.3 L526.3,75.6 L527.2,75.0 L528.0,74.9 L528.9,74.9 L529.7,74.8 L530.6,74.6 L531.4,74.5 L532.3,74.1 L533.1,73.5 L534.0,72.8 L534.8,72.1 L535.7,71.8 L536.6,72.0 L537.4,72.5 L538.3,72.7 L539.1,72.6 L540.0,72.0 L540.9,71.3 L541.7,70.7 L542.6,70.1 L543.4,69.7 L544.3,69.4 L545.2,69.2 L546.0,69.0 L546.9,68.7 L547.7,68.5 L548.6,68.4 L549.5,68.5 L550.3,68.8 L551.2,69.3 L552.1,69.5 L552.9,69.2 L553.8,68.6 L554.7,68.0 L555.5,67.7 L556.4,67.7 L557.3,68.0 L558.1,68.0 L559.0,67.8 L559.9,67.5 L560.7,67.0 L561.6,66.4 L562.5,65.6 L563.3,65.0 L564.2,64.6 L565.1,64.5 L565.9,64.8 L566.8,65.2 L567.6,65.7 L568.5,66.1 L569.4,66.1 L570.2,65.7 L571.1,65.1 L572.0,64.7 L572.8,64.6 L573.7,64.5 L574.5,64.0 L575.4,63.3 L576.3,62.9 L577.1,62.8 L578.0,62.7 L578.9,62.8 L579.7,62.8 L580.6,62.8 L581.5,63.0 L582.3,63.3 L583.2,63.4 L584.1,63.2 L584.9,62.8 L585.8,62.2 L586.7,61.8 L587.6,61.8 L588.4,62.1 L589.3,62.5 L590.2,62.6 L591.0,62.1 L591.9,61.4 L592.8,60.8 L593.7,60.6 L594.5,60.8 L595.4,61.2 L596.3,61.1 L597.2,60.6 L598.0,59.7 L598.9,59.0 L599.8,58.8 L600.7,59.0 L601.5,59.2 L602.4,59.2 L603.3,59.1 L604.2,59.0 L605.0,59.0 L605.9,59.1 L606.8,59.1 L607.6,59.0 L608.5,58.7 L609.4,58.4 L610.3,58.2 L611.1,58.2 L612.0,58.3 L612.9,58.3 L613.8,58.3 L614.6,58.3 L615.5,58.5 L616.4,58.8 L617.2,59.1 L618.1,59.3 L619.0,59.1 L619.9,58.5 L620.7,57.8 L621.6,57.3 L622.5,57.1 L623.4,57.0 L624.2,56.9 L625.1,56.4 L626.0,55.9 L626.8,55.7 L627.7,55.8 L628.6,56.0 L629.5,56.0 L630.3,56.0 L631.2,56.2 L632.1,56.5 L633.0,56.9 L633.8,57.1 L634.7,57.0 L635.6,56.9 L636.5,56.9 L637.3,56.7 L638.2,56.3 L639.1,55.7 L639.9,55.1 L640.8,54.7 L641.7,54.8 L642.6,55.0 L643.4,55.0 L644.3,54.5 L645.2,53.8 L646.1,53.2 L646.9,53.0 L647.8,53.0 L647.8,71.5 L646.9,71.8 L646.1,72.2 L645.2,72.6 L644.3,73.0 L643.4,73.3 L642.6,73.3 L641.7,73.2 L640.8,73.3 L639.9,73.8 L639.1,74.5 L638.2,75.3 L637.3,75.6 L636.5,75.5 L635.6,75.2 L634.7,74.9 L633.8,74.7 L633.0,74.4 L632.1,74.0 L631.2,73.7 L630.3,73.6 L629.5,73.7 L628.6,73.9 L627.7,73.9 L626.8,73.9 L626.0,74.2 L625.1,74.7 L624.2,75.2 L623.4,75.2 L622.5,75.0 L621.6,74.9 L620.7,75.3 L619.9,76.2 L619.0,77.0 L618.1,77.4 L617.2,77.2 L616.4,76.8 L615.5,76.4 L614.6,76.3 L613.8,76.7 L612.9,77.3 L612.0,77.9 L611.1,78.2 L610.3,78.2 L609.4,78.0 L608.5,77.7 L607.6,77.7 L606.8,77.8 L605.9,77.8 L605.0,77.8 L604.2,77.9 L603.3,78.2 L602.4,78.4 L601.5,78.3 L600.7,78.1 L599.8,78.0 L598.9,78.4 L598.0,79.3 L597.2,80.2 L596.3,80.6 L595.4,80.6 L594.5,80.4 L593.7,80.2 L592.8,80.2 L591.9,80.4 L591.0,80.5 L590.2,80.5 L589.3,80.5 L588.4,80.4 L587.6,80.6 L586.7,81.0 L585.8,81.4 L584.9,81.7 L584.1,81.7 L583.2,81.7 L582.3,81.4 L581.5,81.3 L580.6,81.6 L579.7,82.0 L578.9,82.2 L578.0,82.1 L577.1,81.8 L576.3,81.7 L575.4,81.9 L574.5,82.6 L573.7,83.3 L572.8,83.9 L572.0,84.5 L571.1,85.3 L570.2,86.0 L569.4,86.1 L568.5,85.6 L567.6,84.8 L566.8,84.0 L565.9,83.6 L565.1,83.5 L564.2,83.8 L563.3,84.3 L562.5,84.8 L561.6,85.3 L560.7,85.5 L559.9,85.7 L559.0,86.1 L558.1,86.5 L557.3,86.6 L556.4,86.3 L555.5,86.2 L554.7,86.6 L553.8,87.3 L552.9,87.9 L552.1,88.1 L551.2,87.9 L550.3,87.5 L549.5,87.4 L548.6,87.6 L547.7,87.7 L546.9,87.7 L546.0,87.6 L545.2,87.4 L544.3,87.4 L543.4,87.8 L542.6,88.4 L541.7,89.1 L540.9,89.7 L540.0,90.3 L539.1,90.5 L538.3,90.4 L537.4,90.1 L536.6,89.9 L535.7,90.0 L534.8,90.4 L534.0,91.0 L533.1,91.8 L532.3,92.4 L531.4,92.9 L530.6,93.2 L529.7,93.2 L528.9,93.1 L528.0,93.0 L527.2,93.0 L526.3,93.5 L525.5,94.3 L524.6,95.0 L523.8,95.5 L523.0,95.9 L522.1,96.1 L521.3,96.2 L520.5,96.4 L519.7,96.5 L518.8,96.6 L518.0,96.8 L517.2,97.2 L516.4,97.5 L515.6,97.8 L514.8,98.0 L514.0,98.1 L513.2,98.1 L512.5,98.0 L511.7,98.2 L510.9,98.8 L510.1,99.7 L509.3,100.5 L508.5,101.2 L507.8,101.5 L507.0,101.9 L506.2,102.5 L505.4,102.9 L504.6,103.3 L503.8,103.5 L503.0,103.8 L502.2,104.2 L501.4,104.7 L500.6,104.9 L499.7,104.9 L498.9,104.9 L498.1,105.1 L497.2,105.5 L496.4,105.8 L495.6,105.7 L494.8,105.4 L494.0,105.3 L493.2,105.6 L492.4,106.0 L491.6,106.4 L490.9,106.8 L490.1,107.1 L489.3,107.5 L488.5,108.1 L487.7,108.7 L487.0,109.1 L486.2,109.4 L485.4,109.6 L484.6,109.7 L483.8,110.2 L483.0,110.9 L482.2,111.5 L481.4,111.9 L480.6,112.0 L479.8,112.0 L479.0,112.1 L478.1,112.5 L477.3,112.9 L476.5,113.4 L475.7,113.8 L474.9,114.0 L474.1,114.2 L473.3,114.5 L472.5,115.0 L471.8,115.6 L471.0,116.2 L470.2,116.4 L469.5,116.4 L468.7,116.3 L468.0,116.5 L467.3,117.0 L466.5,117.7 L465.8,118.5 L465.1,119.5 L464.3,120.5 L463.6,121.3 L462.9,122.0 L462.2,122.3 L461.5,122.3 L460.8,122.2 L460.1,122.1 L459.3,122.2 L458.6,122.6 L457.9,123.2 L457.1,123.9 L456.4,124.6 L455.7,125.2 L455.0,125.8 L454.4,126.4 L453.7,126.9 L453.1,127.3 L452.5,127.9 L451.9,128.6 L451.3,129.5 L450.8,130.4 L450.2,131.1 L449.7,131.6 L449.1,131.9 L448.6,132.3 L448.0,133.0 L447.5,133.8 L446.9,134.6 L446.4,135.4 L445.8,136.0 L445.3,136.5 L444.7,136.9 L444.2,137.3 L443.6,137.8 L443.0,138.4 L442.4,139.0 L441.8,139.7 L441.2,140.3 L440.6,140.8 L440.1,141.4 L439.6,141.9 L439.1,142.6 L438.6,143.2 L438.2,143.9 L437.8,144.7 L437.4,145.5 L436.9,146.3 L436.5,147.0 L436.1,147.8 L435.7,148.5 L435.3,149.3 L434.8,150.1 L434.4,150.8 L434.0,151.5 L433.6,152.1 L433.1,152.8 L432.7,153.6 L432.3,154.4 L431.9,155.2 L431.4,156.0 L431.0,156.7 L430.6,157.3 L430.2,158.0 L429.8,158.8 L429.4,159.5 L429.0,160.3 L428.6,161.0 L428.2,161.8 L427.8,162.5 L427.5,163.3 L427.1,164.1 L426.7,164.8 L426.4,165.6 L426.0,166.4 L425.7,167.1 L425.4,167.9 L425.0,168.6 L424.7,169.4 L424.4,170.2 L424.1,171.0 L423.8,171.8 L423.5,172.6 L423.2,173.4 L422.9,174.2 L422.6,175.0 L422.3,175.8 L422.0,176.6 L421.8,177.4 L421.5,178.2 L421.2,179.0 L421.0,179.8 L420.7,180.7 L420.4,181.5 L420.2,182.3 L419.9,183.1 L419.7,183.9 L419.5,184.8 L419.2,185.6 L419.0,186.4 L418.8,187.3 L418.6,188.1 L418.3,188.9 L418.1,189.8 L417.9,190.6 L417.7,191.4 L417.5,192.3 L417.2,193.1 L417.0,193.9 L416.8,194.8 L416.5,195.6 L416.3,196.4 L416.1,197.2 L415.8,198.1 L415.6,198.9 L415.4,199.7 L415.1,200.6 L414.9,201.4 L414.7,202.2 L414.4,203.0 L414.2,203.9 L414.0,204.7 L413.8,205.6 L413.6,206.4 L413.4,207.2 L413.2,208.1 L413.1,208.9 L412.9,209.8 L412.7,210.6 L412.5,211.5 L412.3,212.3 L412.2,213.2 L412.0,214.0 L411.8,214.9 L411.7,215.7 L411.5,216.6 L411.3,217.4 L411.2,218.3 L411.0,219.1 L410.9,220.0 L410.7,220.9 L410.6,221.7 L410.5,222.6 L410.3,223.4 L410.2,224.3 L410.1,225.1 L409.9,226.0 L409.8,226.9 L409.7,227.7 L409.5,228.6 L409.4,229.5 L409.3,230.3 L409.2,231.2 L409.1,232.0 L409.0,232.9 L408.9,233.8 L408.8,234.6 L408.7,235.5 L408.6,236.4 L408.5,237.3 L408.4,238.1 L408.3,239.0 L408.2,239.9 L408.2,240.7 L408.1,241.6 L408.0,242.5 L407.9,243.4 L407.9,244.2 L407.8,245.1 L407.7,246.0 L407.7,246.8 L407.6,247.7 L407.6,248.6 L407.5,249.5 L407.4,250.3 L407.4,251.2 L407.3,252.1 L407.3,253.0 L407.3,253.9 L407.2,254.7 L407.2,255.6 L407.2,256.5 L407.2,257.4 L407.1,258.3 L407.1,259.1 L407.1,260.0 L407.1,260.9 L407.1,261.8 L407.1,262.7 L407.1,263.5 L407.0,264.4 L407.0,265.3 L407.0,266.2 L407.0,267.1 L407.0,267.9 L407.0,268.8 L407.0,269.7 L407.0,270.6 L407.0,271.5 L406.9,272.4 L406.9,273.2 L406.9,274.1 L406.9,275.0Z" fill="#4C72C0" fill-opacity="0.31" stroke="none"/>

<path d="M406.9,275.0 L406.9,274.1 L406.9,273.2 L406.9,272.3 L407.0,271.4 L407.0,270.5 L407.0,269.6 L407.0,268.7 L407.0,267.8 L407.0,266.9 L407.0,266.0 L407.0,265.1 L407.0,264.2 L407.1,263.3 L407.1,262.4 L407.1,261.5 L407.1,260.6 L407.1,259.7 L407.1,258.8 L407.2,257.9 L407.2,257.0 L407.2,256.1 L407.2,255.2 L407.3,254.3 L407.3,253.4 L407.3,252.5 L407.4,251.6 L407.4,250.7 L407.5,249.8 L407.5,248.9 L407.6,248.0 L407.6,247.1 L407.7,246.2 L407.8,245.3 L407.8,244.4 L407.9,243.5 L408.0,242.6 L408.1,241.7 L408.1,240.8 L408.2,239.9 L408.3,239.0 L408.4,238.1 L408.5,237.2 L408.6,236.3 L408.6,235.4 L408.7,234.5 L408.9,233.7 L409.0,232.8 L409.1,231.9 L409.2,231.0 L409.3,230.1 L409.4,229.2 L409.6,228.3 L409.7,227.4 L409.8,226.5 L409.9,225.6 L410.1,224.7 L410.2,223.8 L410.4,222.9 L410.5,222.1 L410.6,221.2 L410.8,220.3 L410.9,219.4 L411.1,218.5 L411.2,217.6 L411.4,216.7 L411.6,215.8 L411.7,215.0 L411.9,214.1 L412.1,213.2 L412.2,212.3 L412.4,211.4 L412.6,210.5 L412.8,209.7 L413.0,208.8 L413.2,207.9 L413.3,207.0 L413.5,206.1 L413.7,205.3 L413.9,204.4 L414.2,203.5 L414.4,202.6 L414.6,201.8 L414.8,200.9 L415.1,200.0 L415.3,199.2 L415.6,198.3 L415.8,197.4 L416.1,196.6 L416.3,195.7 L416.5,194.8 L416.8,194.0 L417.0,193.1 L417.2,192.2 L417.4,191.3 L417.6,190.5 L417.8,189.6 L418.0,188.7 L418.2,187.8 L418.4,186.9 L418.6,186.1 L418.8,185.2 L419.0,184.3 L419.2,183.4 L419.4,182.5 L419.6,181.7 L419.8,180.8 L420.0,179.9 L420.2,179.1 L420.5,178.2 L420.7,177.3 L421.0,176.4 L421.2,175.6 L421.4,174.7 L421.7,173.8 L421.9,173.0 L422.2,172.1 L422.4,171.2 L422.7,170.4 L423.0,169.5 L423.2,168.6 L423.5,167.8 L423.8,166.9 L424.1,166.1 L424.4,165.2 L424.7,164.4 L425.0,163.5 L425.3,162.7 L425.6,161.9 L426.0,161.0 L426.3,160.2 L426.7,159.4 L427.1,158.6 L427.5,157.8 L427.9,157.0 L428.3,156.2 L428.7,155.4 L429.2,154.5 L429.6,153.7 L430.1,153.0 L430.5,152.2 L431.0,151.5 L431.4,150.7 L431.9,149.9 L432.3,149.1 L432.8,148.3 L433.2,147.5 L433.6,146.7 L434.1,145.9 L434.5,145.1 L434.9,144.3 L435.3,143.4 L435.7,142.5 L436.1,141.8 L436.5,141.0 L436.9,140.2 L437.2,139.4 L437.7,138.5 L438.1,137.6 L438.5,136.9 L438.9,136.2 L439.4,135.5 L439.8,134.8 L440.3,134.1 L440.9,133.6 L441.4,133.0 L442.0,132.3 L442.6,131.5 L443.2,130.6 L443.7,129.8 L444.3,129.1 L444.9,128.4 L445.4,127.6 L446.0,126.8 L446.5,126.0 L447.1,125.2 L447.6,124.6 L448.2,124.1 L448.7,123.6 L449.3,123.0 L449.8,122.4 L450.4,121.8 L451.0,121.1 L451.6,120.5 L452.2,119.6 L452.8,118.7 L453.5,117.6 L454.1,116.8 L454.8,116.3 L455.4,116.0 L456.1,115.6 L456.8,115.0 L457.5,114.2 L458.2,113.2 L458.8,112.5 L459.5,112.1 L460.2,111.9 L460.9,111.6 L461.6,111.3 L462.2,110.9 L462.9,110.4 L463.5,109.8 L464.1,108.8 L464.8,107.7 L465.4,106.7 L466.1,106.1 L466.8,105.7 L467.4,105.2 L468.2,104.7 L468.9,104.1 L469.6,103.4 L470.3,102.8 L471.1,102.1 L471.8,101.4 L472.6,100.8 L473.3,100.3 L474.1,99.9 L474.9,99.6 L475.6,99.3 L476.4,99.1 L477.2,98.8 L478.0,98.3 L478.7,97.7 L479.5,96.9 L480.3,96.1 L481.1,95.5 L481.8,95.0 L482.6,94.6 L483.4,94.4 L484.2,94.2 L485.0,93.9 L485.8,93.4 L486.6,92.8 L487.4,92.3 L488.2,91.9 L489.0,91.7 L489.8,91.4 L490.6,90.9 L491.4,90.3 L492.2,90.0 L493.0,89.6 L493.8,89.3 L494.6,89.1 L495.4,88.7 L496.2,88.2 L497.0,87.6 L497.7,87.1 L498.5,86.6 L499.2,86.2 L500.0,85.9 L500.7,85.5 L501.5,85.0 L502.3,84.6 L503.1,84.1 L503.9,83.6 L504.7,83.0 L505.5,82.7 L506.3,82.3 L507.1,82.0 L507.9,81.5 L508.7,80.8 L509.5,80.1 L510.3,79.4 L511.2,79.0 L512.0,78.7 L512.8,78.6 L513.6,78.7 L514.5,78.6 L515.3,78.3 L516.1,77.7 L517.0,77.1 L517.8,76.9 L518.6,76.9 L519.5,76.8 L520.3,76.6 L521.1,76.2 L522.0,75.5 L522.8,75.1 L523.7,74.9 L524.5,74.7 L525.3,74.5 L526.2,74.3 L527.0,73.9 L527.9,73.5 L528.8,73.2 L529.6,72.8 L530.5,72.3 L531.3,71.7 L532.2,71.2 L533.0,71.1 L533.9,71.3 L534.8,71.6 L535.6,71.7 L536.5,71.5 L537.4,71.0 L538.2,70.6 L539.1,70.5 L539.9,70.4 L540.8,70.2 L541.7,69.6 L542.5,68.9 L543.4,68.2 L544.3,67.9 L545.1,67.8 L546.0,67.9 L546.8,68.1 L547.7,68.2 L548.6,68.1 L549.5,67.9 L550.3,67.6 L551.2,67.2 L552.1,66.7 L552.9,66.0 L553.8,65.3 L554.7,64.8 L555.5,64.4 L556.4,64.1 L557.3,64.1 L558.2,64.2 L559.0,64.2 L559.9,64.0 L560.8,63.6 L561.7,63.1 L562.5,62.7 L563.4,62.4 L564.3,62.2 L565.2,62.1 L566.0,62.3 L566.9,62.7 L567.8,63.0 L568.7,63.0 L569.5,62.6 L570.4,62.0 L571.3,61.6 L572.2,61.5 L573.1,61.6 L573.9,61.4 L574.8,60.9 L575.7,60.3 L576.6,59.8 L577.5,59.4 L578.3,59.3 L579.2,59.3 L580.1,59.4 L581.0,59.5 L581.9,59.4 L582.8,59.2 L583.6,58.9 L584.5,58.7 L585.4,58.4 L586.3,58.3 L587.2,58.3 L588.1,58.3 L588.9,58.5 L589.8,58.5 L590.7,58.2 L591.6,57.7 L592.5,57.4 L593.4,57.3 L594.3,57.3 L595.1,57.3 L596.0,57.1 L596.9,56.8 L597.8,56.7 L598.7,56.7 L599.6,56.6 L600.5,56.4 L601.4,56.3 L602.2,56.3 L603.1,56.2 L604.0,56.0 L604.9,55.5 L605.8,54.9 L606.7,54.4 L607.6,54.3 L608.5,54.3 L609.4,54.4 L610.3,54.6 L611.1,54.8 L612.0,54.8 L612.9,54.9 L613.8,54.9 L614.7,54.6 L615.6,54.1 L616.5,53.7 L617.4,53.6 L618.3,53.6 L619.2,53.7 L620.1,53.7 L621.0,53.6 L621.9,53.4 L622.7,53.2 L623.6,52.8 L624.5,52.3 L625.4,51.8 L626.3,51.6 L627.2,51.7 L628.1,51.8 L629.0,51.7 L629.9,51.4 L630.8,51.2 L631.7,51.3 L632.6,51.5 L633.5,51.7 L634.4,51.9 L635.3,52.0 L636.2,52.1 L637.1,51.8 L638.0,51.2 L638.9,50.4 L639.7,49.9 L640.6,49.6 L641.5,49.6 L642.4,49.9 L643.3,50.2 L644.2,50.5 L645.1,50.7 L646.0,50.7 L646.9,50.5 L647.8,50.3" fill="none" stroke="#F6BD55" stroke-width="2.3" stroke-linejoin="round"/>
<path d="M406.9,275.0 L406.9,274.1 L406.9,273.1 L406.9,272.2 L407.0,271.3 L407.0,270.3 L407.0,269.4 L407.0,268.5 L407.0,267.5 L407.0,266.6 L407.0,265.7 L407.0,264.7 L407.1,263.8 L407.1,262.9 L407.1,261.9 L407.1,261.0 L407.1,260.0 L407.1,259.1 L407.2,258.2 L407.2,257.2 L407.2,256.3 L407.2,255.4 L407.2,254.4 L407.3,253.5 L407.3,252.6 L407.3,251.6 L407.4,250.7 L407.4,249.8 L407.5,248.8 L407.5,247.9 L407.6,247.0 L407.6,246.0 L407.7,245.1 L407.7,244.2 L407.8,243.2 L407.9,242.3 L407.9,241.4 L408.0,240.4 L408.1,239.5 L408.1,238.6 L408.2,237.7 L408.3,236.7 L408.4,235.8 L408.5,234.9 L408.6,233.9 L408.7,233.0 L408.8,232.1 L408.9,231.1 L409.0,230.2 L409.1,229.3 L409.2,228.4 L409.4,227.4 L409.5,226.5 L409.6,225.6 L409.7,224.7 L409.9,223.7 L410.0,222.8 L410.1,221.9 L410.2,221.0 L410.4,220.0 L410.5,219.1 L410.7,218.2 L410.8,217.3 L410.9,216.3 L411.1,215.4 L411.2,214.5 L411.4,213.6 L411.6,212.6 L411.7,211.7 L411.9,210.8 L412.1,209.9 L412.2,209.0 L412.4,208.0 L412.6,207.1 L412.8,206.2 L412.9,205.3 L413.1,204.4 L413.3,203.5 L413.6,202.6 L413.8,201.7 L414.0,200.8 L414.2,199.8 L414.5,198.9 L414.7,198.0 L415.0,197.1 L415.2,196.2 L415.4,195.3 L415.7,194.4 L415.9,193.5 L416.1,192.6 L416.3,191.7 L416.5,190.8 L416.7,189.9 L416.8,188.9 L417.0,188.0 L417.2,187.1 L417.4,186.2 L417.6,185.3 L417.7,184.4 L417.9,183.4 L418.1,182.5 L418.3,181.6 L418.5,180.7 L418.6,179.8 L418.8,178.8 L419.0,177.9 L419.1,177.0 L419.3,176.1 L419.5,175.2 L419.7,174.2 L419.8,173.3 L420.0,172.4 L420.2,171.5 L420.4,170.6 L420.6,169.7 L420.8,168.8 L421.0,167.9 L421.3,167.0 L421.5,166.1 L421.7,165.1 L422.0,164.2 L422.2,163.3 L422.5,162.4 L422.8,161.5 L423.0,160.6 L423.3,159.8 L423.6,158.9 L423.9,158.0 L424.2,157.1 L424.5,156.2 L424.8,155.3 L425.1,154.4 L425.4,153.6 L425.7,152.7 L426.1,151.8 L426.4,151.0 L426.8,150.1 L427.1,149.3 L427.5,148.4 L427.9,147.5 L428.3,146.6 L428.7,145.8 L429.1,144.9 L429.5,144.1 L429.9,143.2 L430.3,142.4 L430.7,141.6 L431.1,140.8 L431.5,140.0 L432.0,139.1 L432.4,138.2 L432.8,137.3 L433.2,136.5 L433.6,135.6 L434.0,134.8 L434.4,134.1 L434.8,133.3 L435.3,132.5 L435.7,131.6 L436.1,130.6 L436.5,129.7 L437.0,128.7 L437.4,127.9 L437.8,127.1 L438.3,126.4 L438.7,125.7 L439.2,125.0 L439.6,124.3 L440.1,123.5 L440.6,122.6 L441.1,121.7 L441.5,120.9 L442.0,120.1 L442.5,119.4 L443.0,118.5 L443.5,117.6 L444.0,116.7 L444.5,115.9 L445.1,115.2 L445.6,114.6 L446.1,113.8 L446.6,112.9 L447.2,112.1 L447.7,111.5 L448.3,111.0 L448.8,110.4 L449.4,109.6 L449.9,108.7 L450.5,107.7 L451.1,106.9 L451.7,106.2 L452.3,105.6 L452.9,105.0 L453.6,104.6 L454.2,104.0 L454.9,103.4 L455.5,102.7 L456.2,101.8 L456.9,100.8 L457.6,100.1 L458.3,99.5 L458.9,99.0 L459.6,98.5 L460.3,98.0 L460.9,97.1 L461.6,96.0 L462.2,94.9 L462.9,94.1 L463.5,93.8 L464.1,93.6 L464.8,93.2 L465.4,92.6 L466.1,91.9 L466.7,91.3 L467.4,90.6 L468.1,90.0 L468.8,89.4 L469.5,89.0 L470.2,88.7 L470.9,88.3 L471.7,87.6 L472.4,86.6 L473.2,85.6 L474.0,84.8 L474.8,84.1 L475.6,83.7 L476.4,83.2 L477.2,82.6 L478.0,82.3 L478.8,82.5 L479.6,83.0 L480.4,83.2 L481.2,82.9 L482.0,81.9 L482.8,80.4 L483.7,79.0 L484.5,78.0 L485.3,77.2 L486.1,76.6 L487.0,76.2 L487.8,76.1 L488.6,76.2 L489.4,76.3 L490.2,76.0 L491.0,75.2 L491.9,74.1 L492.7,73.1 L493.5,72.7 L494.3,72.7 L495.1,72.8 L495.9,72.6 L496.7,71.9 L497.5,71.0 L498.4,70.3 L499.2,70.1 L500.0,70.2 L500.9,70.2 L501.7,69.8 L502.5,69.1 L503.4,68.1 L504.2,67.4 L505.0,66.9 L505.9,66.4 L506.7,66.0 L507.6,65.5 L508.4,64.9 L509.2,64.2 L510.1,63.6 L510.9,63.2 L511.8,63.0 L512.6,63.2 L513.5,63.6 L514.3,63.9 L515.2,64.0 L516.0,63.6 L516.9,63.1 L517.7,62.5 L518.6,62.1 L519.5,61.7 L520.3,61.3 L521.2,60.7 L522.1,59.9 L522.9,59.0 L523.8,58.2 L524.7,57.4 L525.5,56.8 L526.4,56.6 L527.3,56.6 L528.2,57.0 L529.1,57.7 L529.9,58.2 L530.8,58.3 L531.7,58.0 L532.6,57.2 L533.5,56.3 L534.4,55.2 L535.2,54.2 L536.1,53.9 L537.0,54.2 L537.9,54.8 L538.8,55.2 L539.7,55.0 L540.6,54.6 L541.5,54.2 L542.3,54.0 L543.2,53.5 L544.1,52.9 L545.0,52.4 L545.9,52.1 L546.8,52.1 L547.7,52.0 L548.6,51.8 L549.5,51.3 L550.4,50.5 L551.3,49.6 L552.2,48.8 L553.1,48.4 L554.0,48.7 L554.9,49.1 L555.8,49.3 L556.7,49.1 L557.6,48.6 L558.5,48.0 L559.4,47.8 L560.3,47.6 L561.2,47.4 L562.1,47.4 L563.0,47.3 L563.9,47.0 L564.8,46.4 L565.7,45.8 L566.6,45.4 L567.5,45.4 L568.4,45.4 L569.4,45.4 L570.3,45.2 L571.2,44.9 L572.1,44.9 L573.0,45.2 L573.9,45.2 L574.8,44.8 L575.7,44.0 L576.6,43.3 L577.5,43.0 L578.4,43.2 L579.3,43.7 L580.3,44.1 L581.2,44.2 L582.1,44.1 L583.0,43.7 L583.9,43.2 L584.8,42.6 L585.8,42.4 L586.7,42.5 L587.6,42.6 L588.5,42.6 L589.4,42.2 L590.4,41.6 L591.3,40.8 L592.2,40.3 L593.1,40.0 L594.0,39.9 L595.0,40.0 L595.9,40.1 L596.8,40.1 L597.7,39.9 L598.7,39.3 L599.6,38.5 L600.5,37.8 L601.4,37.7 L602.4,37.9 L603.3,38.1 L604.2,38.2 L605.1,38.2 L606.1,38.3 L607.0,38.6 L607.9,38.8 L608.8,38.6 L609.8,38.1 L610.7,37.6 L611.6,37.4 L612.5,37.2 L613.5,37.1 L614.4,37.1 L615.3,37.3 L616.2,37.7 L617.2,38.0 L618.1,37.9 L619.0,37.7 L619.9,37.5 L620.9,37.6 L621.8,37.7 L622.7,37.4 L623.7,36.7 L624.6,35.8 L625.5,35.1 L626.4,35.0 L627.4,35.3 L628.3,35.7 L629.2,36.0 L630.2,36.1 L631.1,35.9 L632.0,35.6 L632.9,35.3 L633.9,34.8 L634.8,34.2 L635.7,33.9 L636.7,33.6 L637.6,33.4 L638.5,33.4 L639.4,33.6 L640.4,33.8 L641.3,34.0 L642.2,34.1 L643.2,33.8 L644.1,33.5 L645.0,33.4 L645.9,33.4 L646.9,33.3 L647.8,33.2" fill="none" stroke="#8AD9C2" stroke-width="2.3" stroke-linejoin="round"/>
<path d="M406.9,275.0 L406.9,274.1 L406.9,273.2 L406.9,272.4 L407.0,271.5 L407.0,270.6 L407.0,269.7 L407.0,268.8 L407.0,267.9 L407.0,267.1 L407.0,266.2 L407.0,265.3 L407.0,264.4 L407.1,263.5 L407.1,262.6 L407.1,261.8 L407.1,260.9 L407.1,260.0 L407.1,259.1 L407.1,258.2 L407.2,257.4 L407.2,256.5 L407.2,255.6 L407.2,254.7 L407.3,253.8 L407.3,253.0 L407.3,252.1 L407.4,251.2 L407.4,250.3 L407.5,249.4 L407.6,248.5 L407.6,247.7 L407.7,246.8 L407.7,245.9 L407.8,245.0 L407.9,244.1 L407.9,243.3 L408.0,242.4 L408.1,241.5 L408.2,240.6 L408.2,239.8 L408.3,238.9 L408.4,238.0 L408.5,237.1 L408.6,236.2 L408.7,235.4 L408.8,234.5 L408.9,233.6 L409.0,232.7 L409.1,231.9 L409.2,231.0 L409.3,230.1 L409.4,229.2 L409.5,228.4 L409.7,227.5 L409.8,226.6 L409.9,225.7 L410.1,224.9 L410.2,224.0 L410.3,223.1 L410.5,222.3 L410.6,221.4 L410.7,220.5 L410.9,219.6 L411.0,218.8 L411.2,217.9 L411.3,217.0 L411.5,216.2 L411.7,215.3 L411.8,214.4 L412.0,213.6 L412.2,212.7 L412.3,211.8 L412.5,211.0 L412.7,210.1 L412.9,209.2 L413.1,208.4 L413.2,207.5 L413.4,206.7 L413.6,205.8 L413.8,204.9 L414.0,204.1 L414.2,203.2 L414.4,202.4 L414.7,201.5 L414.9,200.7 L415.1,199.8 L415.4,199.0 L415.6,198.1 L415.8,197.3 L416.1,196.4 L416.3,195.6 L416.5,194.7 L416.8,193.9 L417.0,193.0 L417.2,192.1 L417.5,191.3 L417.7,190.4 L417.9,189.6 L418.1,188.7 L418.3,187.9 L418.6,187.0 L418.8,186.2 L419.0,185.3 L419.2,184.5 L419.5,183.6 L419.7,182.8 L419.9,181.9 L420.2,181.1 L420.4,180.2 L420.7,179.4 L421.0,178.5 L421.2,177.7 L421.5,176.9 L421.8,176.0 L422.0,175.2 L422.3,174.3 L422.6,173.5 L422.9,172.7 L423.2,171.8 L423.5,171.0 L423.8,170.2 L424.1,169.3 L424.4,168.5 L424.7,167.7 L425.0,166.9 L425.4,166.1 L425.7,165.3 L426.0,164.5 L426.4,163.7 L426.7,162.8 L427.1,162.0 L427.5,161.2 L427.8,160.4 L428.2,159.6 L428.6,158.9 L429.0,158.1 L429.4,157.2 L429.8,156.4 L430.2,155.6 L430.6,154.9 L431.0,154.2 L431.4,153.4 L431.9,152.6 L432.3,151.7 L432.7,150.9 L433.1,150.1 L433.6,149.4 L434.0,148.7 L434.4,148.0 L434.8,147.2 L435.3,146.3 L435.7,145.5 L436.1,144.6 L436.5,143.8 L436.9,143.0 L437.4,142.2 L437.8,141.5 L438.2,140.7 L438.6,140.0 L439.1,139.3 L439.6,138.7 L440.1,138.1 L440.6,137.5 L441.2,136.8 L441.8,136.1 L442.4,135.3 L443.0,134.6 L443.6,134.0 L444.2,133.5 L444.7,133.0 L445.3,132.5 L445.8,131.8 L446.4,131.1 L446.9,130.3 L447.5,129.4 L448.0,128.7 L448.6,128.0 L449.1,127.6 L449.7,127.2 L450.2,126.6 L450.8,125.8 L451.3,124.9 L451.9,123.9 L452.5,123.1 L453.1,122.4 L453.7,121.9 L454.4,121.4 L455.0,120.9 L455.7,120.5 L456.4,119.9 L457.1,119.0 L457.9,118.2 L458.6,117.3 L459.3,116.7 L460.1,116.4 L460.8,116.3 L461.5,116.3 L462.2,116.2 L462.9,115.8 L463.6,115.3 L464.3,114.4 L465.1,113.5 L465.8,112.5 L466.5,111.6 L467.3,111.1 L468.0,110.9 L468.7,110.8 L469.5,110.6 L470.2,110.2 L471.0,109.7 L471.8,109.0 L472.5,108.4 L473.3,107.9 L474.1,107.6 L474.9,107.2 L475.7,106.8 L476.5,106.2 L477.3,105.5 L478.1,104.8 L479.0,104.3 L479.8,104.3 L480.6,104.6 L481.4,104.6 L482.2,104.3 L483.0,103.7 L483.8,103.0 L484.6,102.6 L485.4,102.2 L486.2,101.7 L487.0,101.0 L487.7,100.6 L488.5,100.2 L489.3,100.0 L490.1,99.9 L490.9,99.7 L491.6,99.3 L492.4,98.8 L493.2,98.2 L494.0,97.7 L494.8,97.6 L495.6,97.7 L496.4,97.5 L497.2,97.0 L498.1,96.5 L498.9,96.3 L499.7,96.4 L500.6,96.5 L501.4,96.3 L502.2,95.9 L503.0,95.6 L503.8,95.3 L504.6,95.1 L505.4,94.6 L506.2,93.9 L507.0,93.3 L507.8,92.8 L508.5,92.4 L509.3,91.9 L510.1,91.3 L510.9,90.5 L511.7,89.9 L512.5,89.7 L513.2,89.9 L514.0,90.1 L514.8,90.1 L515.6,89.7 L516.4,89.2 L517.2,88.6 L518.0,88.1 L518.8,87.8 L519.7,87.5 L520.5,87.3 L521.3,86.9 L522.1,86.6 L523.0,86.4 L523.8,86.2 L524.6,85.8 L525.5,85.4 L526.3,84.8 L527.2,84.2 L528.0,83.8 L528.9,83.6 L529.7,83.5 L530.6,83.5 L531.4,83.6 L532.3,83.4 L533.1,82.9 L534.0,82.2 L534.8,81.5 L535.7,81.2 L536.6,81.4 L537.4,81.7 L538.3,81.9 L539.1,82.0 L540.0,81.5 L540.9,80.8 L541.7,79.9 L542.6,79.2 L543.4,78.7 L544.3,78.5 L545.2,78.4 L546.0,78.3 L546.9,78.0 L547.7,77.8 L548.6,77.8 L549.5,77.9 L550.3,78.4 L551.2,78.9 L552.1,79.1 L552.9,78.7 L553.8,77.9 L554.7,77.2 L555.5,76.9 L556.4,77.1 L557.3,77.4 L558.1,77.5 L559.0,77.3 L559.9,76.8 L560.7,76.3 L561.6,75.7 L562.5,75.1 L563.3,74.5 L564.2,74.1 L565.1,74.0 L565.9,74.2 L566.8,74.7 L567.6,75.4 L568.5,76.1 L569.4,76.3 L570.2,76.0 L571.1,75.3 L572.0,74.7 L572.8,74.2 L573.7,73.8 L574.5,73.0 L575.4,72.3 L576.3,72.1 L577.1,72.2 L578.0,72.5 L578.9,72.7 L579.7,72.6 L580.6,72.3 L581.5,72.2 L582.3,72.3 L583.2,72.5 L584.1,72.4 L584.9,72.3 L585.8,72.0 L586.7,71.7 L587.6,71.5 L588.4,71.6 L589.3,71.8 L590.2,71.9 L591.0,71.7 L591.9,71.3 L592.8,70.7 L593.7,70.3 L594.5,70.3 L595.4,70.4 L596.3,70.4 L597.2,70.0 L598.0,69.3 L598.9,68.5 L599.8,68.2 L600.7,68.3 L601.5,68.5 L602.4,68.5 L603.3,68.4 L604.2,68.2 L605.0,68.2 L605.9,68.3 L606.8,68.4 L607.6,68.5 L608.5,68.6 L609.4,68.7 L610.3,68.8 L611.1,68.6 L612.0,68.3 L612.9,67.8 L613.8,67.5 L614.6,67.3 L615.5,67.5 L616.4,67.8 L617.2,68.0 L618.1,68.1 L619.0,67.9 L619.9,67.2 L620.7,66.4 L621.6,66.0 L622.5,66.0 L623.4,66.2 L624.2,66.3 L625.1,66.0 L626.0,65.5 L626.8,65.3 L627.7,65.3 L628.6,65.3 L629.5,65.0 L630.3,64.7 L631.2,64.6 L632.1,64.7 L633.0,65.0 L633.8,65.3 L634.7,65.5 L635.6,65.6 L636.5,65.8 L637.3,65.8 L638.2,65.6 L639.1,65.2 L639.9,64.7 L640.8,64.4 L641.7,64.3 L642.6,64.2 L643.4,64.0 L644.3,63.7 L645.2,63.3 L646.1,63.0 L646.9,62.9 L647.8,62.7" fill="none" stroke="#3A74B0" stroke-width="2.3" stroke-linejoin="round"/>

<line x1="394.7" x2="659.5" y1="14.5" y2="14.5" stroke="#7a7a7a" stroke-width="1.2"/>
<line x1="659.5" x2="659.5" y1="14.5" y2="287.3" stroke="#7a7a7a" stroke-width="1.2"/>
<line x1="395.2" x2="395.2" y1="14.5" y2="287.8" stroke="#333" stroke-width="1.1"/>
<line x1="394.7" x2="659.5" y1="287.3" y2="287.3" stroke="#333" stroke-width="1.1"/>
<line x1="393.2" x2="395.2" y1="275.30" y2="275.30" stroke="#333" stroke-width="0.9"/><text x="391.6" y="278.80" text-anchor="end" font-size="8.5" fill="#575757" font-family="Liberation Sans, sans-serif">0</text><line x1="393.2" x2="395.2" y1="188.25" y2="188.25" stroke="#333" stroke-width="0.9"/><text x="391.6" y="191.75" text-anchor="end" font-size="8.5" fill="#575757" font-family="Liberation Sans, sans-serif">200</text><line x1="393.2" x2="395.2" y1="101.20" y2="101.20" stroke="#333" stroke-width="0.9"/><text x="391.6" y="104.70" text-anchor="end" font-size="8.5" fill="#575757" font-family="Liberation Sans, sans-serif">400</text>
<line x1="407.60" x2="407.60" y1="287.3" y2="289.2" stroke="#333" stroke-width="0.9"/><text x="407.60" y="297.9" text-anchor="middle" font-size="8.5" fill="#575757" font-family="Liberation Sans, sans-serif">0</text><line x1="467.60" x2="467.60" y1="287.3" y2="289.2" stroke="#333" stroke-width="0.9"/><text x="467.60" y="297.9" text-anchor="middle" font-size="8.5" fill="#575757" font-family="Liberation Sans, sans-serif">5000</text><line x1="527.60" x2="527.60" y1="287.3" y2="289.2" stroke="#333" stroke-width="0.9"/><text x="527.60" y="297.9" text-anchor="middle" font-size="8.5" fill="#575757" font-family="Liberation Sans, sans-serif">10000</text><line x1="587.60" x2="587.60" y1="287.3" y2="289.2" stroke="#333" stroke-width="0.9"/><text x="587.60" y="297.9" text-anchor="middle" font-size="8.5" fill="#575757" font-family="Liberation Sans, sans-serif">15000</text><line x1="647.60" x2="647.60" y1="287.3" y2="289.2" stroke="#333" stroke-width="0.9"/><text x="647.60" y="297.9" text-anchor="middle" font-size="8.5" fill="#575757" font-family="Liberation Sans, sans-serif">20000</text>
<text x="527.35" y="308" text-anchor="middle" font-size="9.1" fill="#575757" font-family="Liberation Sans, sans-serif">Sequencing Depth</text>
<text transform="translate(372.6,152.2) rotate(-90)" text-anchor="middle" font-size="9.25" fill="#575757" font-family="Liberation Sans, sans-serif">Chao1 Alpha Diversity Estimate</text>
<text x="378.9" y="10.9" font-size="14.2" fill="#000" stroke="#000" stroke-width="0.35" font-family="Liberation Sans, sans-serif">B</text>
<text x="583.8" y="231.9" font-size="9" fill="#5a5a5a" stroke="#5a5a5a" stroke-width="0.18" font-family="Liberation Sans, sans-serif">Disease Stage</text><rect x="583.6" y="235.50" width="12" height="11.7" fill="#FFCF78" fill-opacity="0.35" stroke="#FFCF78" stroke-opacity="0.45" stroke-width="0.7"/><line x1="583.6" x2="595.6" y1="241.30" y2="241.30" stroke="#F6BD55" stroke-opacity="0.85" stroke-width="2.3"/><text x="597.6" y="244.30" font-size="8.7" fill="#1a1a1a" stroke="#1a1a1a" stroke-width="0.25" font-family="Liberation Sans, sans-serif">Healthy</text><rect x="583.6" y="247.70" width="12" height="11.7" fill="#7FD6BC" fill-opacity="0.25" stroke="#7FD6BC" stroke-opacity="0.45" stroke-width="0.7"/><line x1="583.6" x2="595.6" y1="253.50" y2="253.50" stroke="#8AD9C2" stroke-opacity="0.85" stroke-width="2.3"/><text x="597.6" y="256.50" font-size="8.7" fill="#1a1a1a" stroke="#1a1a1a" stroke-width="0.25" font-family="Liberation Sans, sans-serif">Early Stage</text><rect x="583.6" y="259.90" width="12" height="11.7" fill="#4C72C0" fill-opacity="0.36" stroke="#4C72C0" stroke-opacity="0.45" stroke-width="0.7"/><line x1="583.6" x2="595.6" y1="265.70" y2="265.70" stroke="#3A74B0" stroke-opacity="0.85" stroke-width="2.3"/><text x="597.6" y="268.70" font-size="8.7" fill="#1a1a1a" stroke="#1a1a1a" stroke-width="0.25" font-family="Liberation Sans, sans-serif">Late Stage</text>
</svg>
</body></html>
